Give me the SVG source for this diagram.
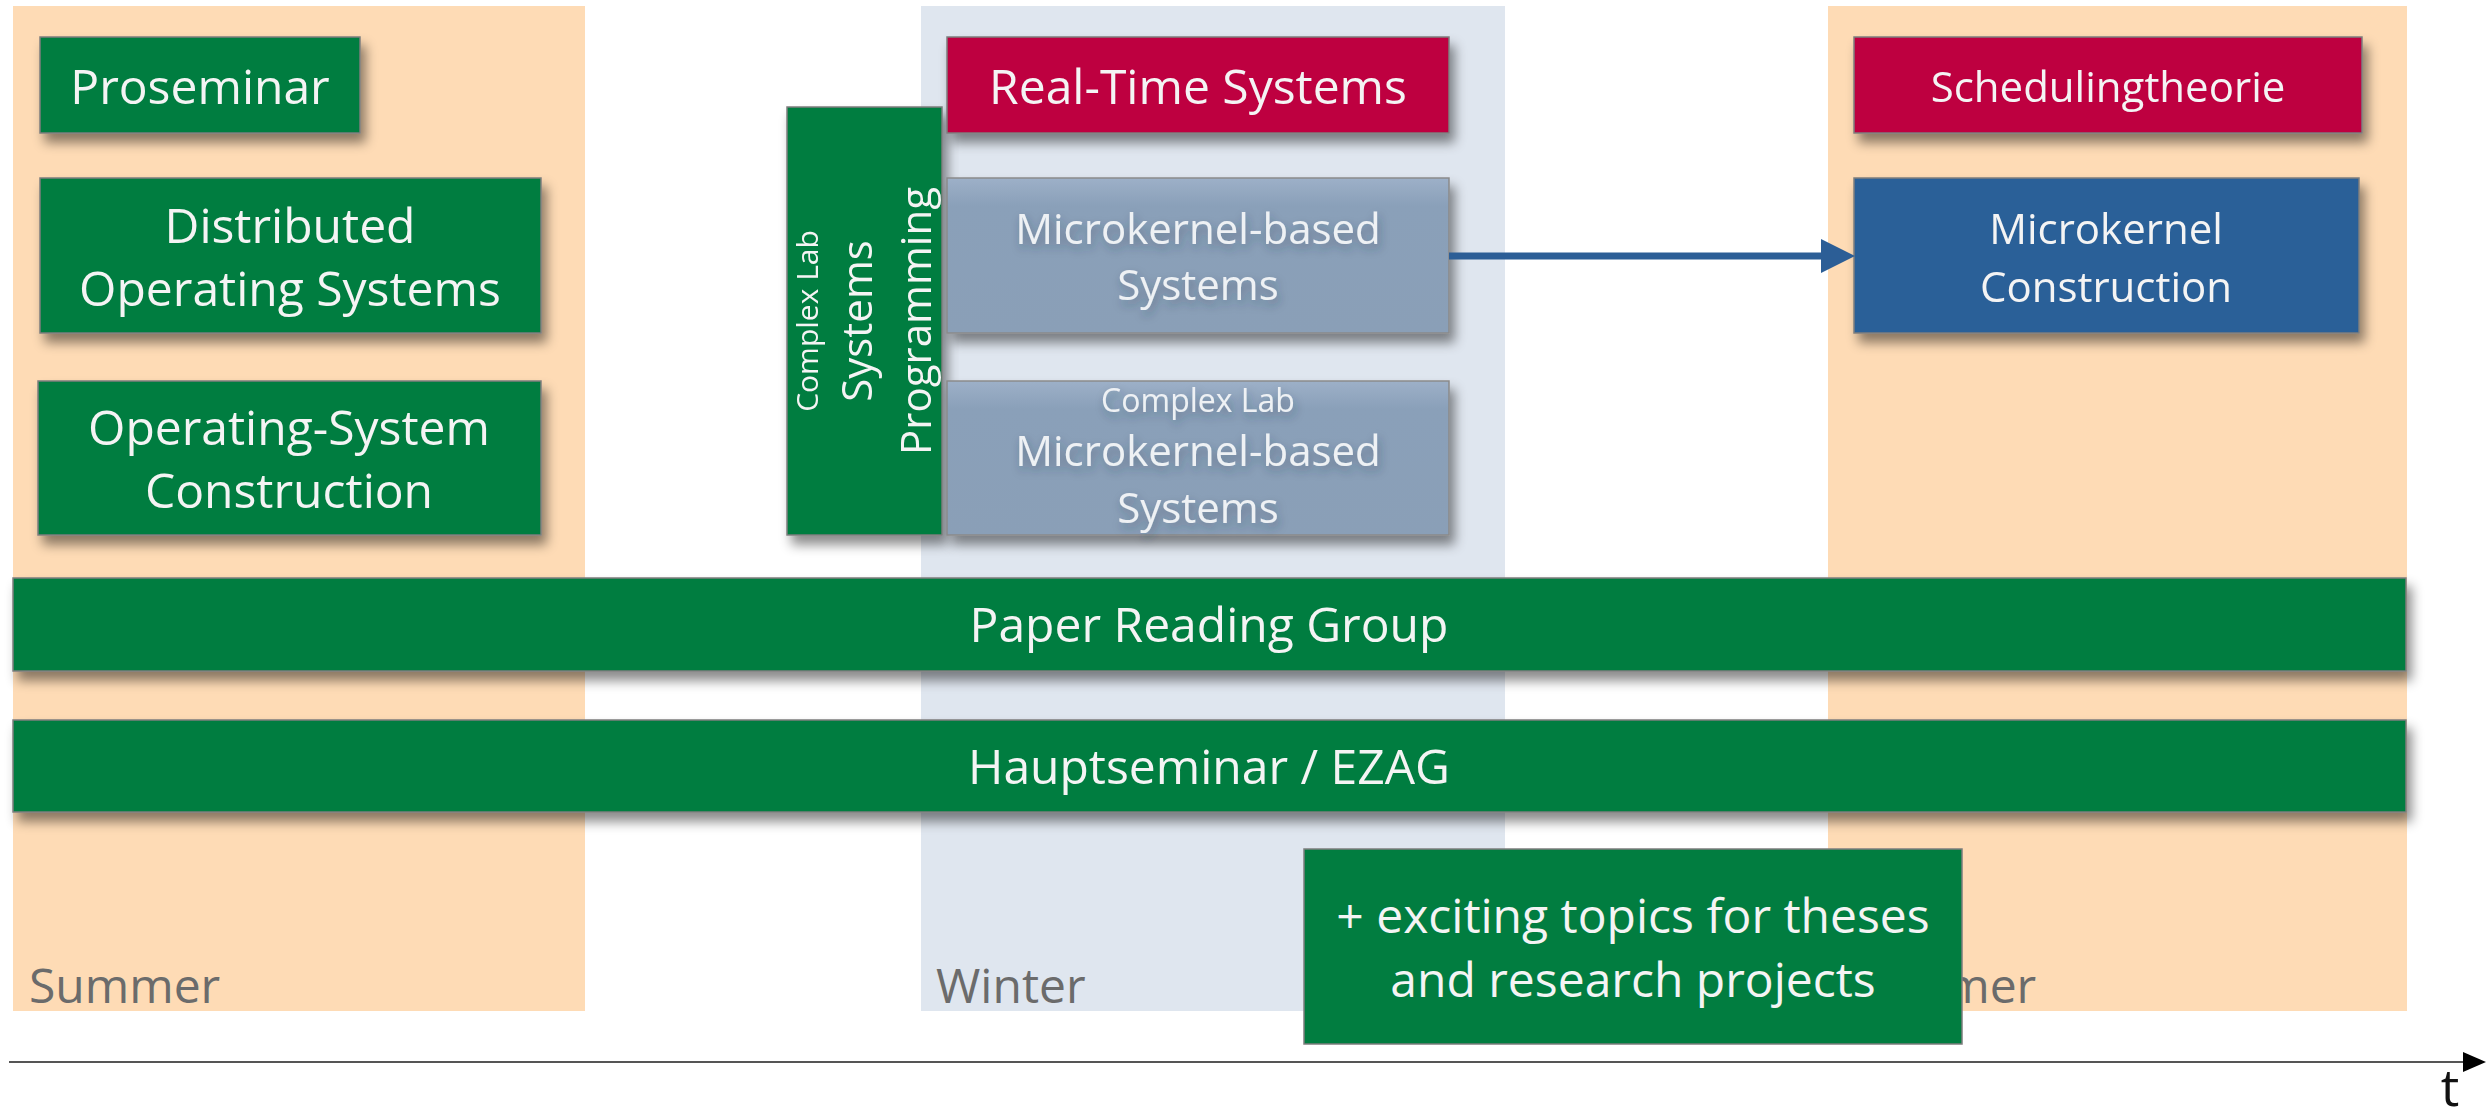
<svg xmlns="http://www.w3.org/2000/svg" width="2487" height="1107" viewBox="0 0 2487 1107">
<defs>
<style>
text{font-family:"Open Sans","Noto Sans","DejaVu Sans",sans-serif;}
.lbl{fill:#f4f4f4;text-anchor:middle;font-size:48px}
.sm{font-size:42px}
.glbl{fill:#eef1f4;text-anchor:middle;font-size:42px}
.green{fill:#017d40;stroke:#7d7d7d;stroke-width:1.5}
.red{fill:#be0040;stroke:#7d7d7d;stroke-width:1.5}
.blue{fill:#2c6098;stroke:#7d7d7d;stroke-width:1.5}
.grey{fill:url(#gg);stroke:#8a8a8a;stroke-width:1.5}
.season{fill:#6b6b6b;font-size:48px}
.summer{fill:#fedbb5}
.winter{fill:#dfe6ef}
</style>
<filter id="sh" x="-5%" y="-20%" width="115%" height="170%">
<feDropShadow dx="5" dy="9" stdDeviation="6" flood-color="#000" flood-opacity="0.45"/>
</filter>
<filter id="tsh" x="-10%" y="-30%" width="120%" height="180%">
<feDropShadow dx="2" dy="5" stdDeviation="5" flood-color="#2a3a4a" flood-opacity="0.4"/>
</filter>
<linearGradient id="gg" x1="0" y1="0" x2="0" y2="1">
<stop offset="0" stop-color="#9db0c8"/>
<stop offset="0.18" stop-color="#8aa0b9"/>
<stop offset="1" stop-color="#8a9fb7"/>
</linearGradient>
<marker id="ah" markerUnits="userSpaceOnUse" markerWidth="34" markerHeight="34" refX="0" refY="17" orient="auto">
<path d="M0,0 L34,17 L0,34 z" fill="#2c5e96"/>
</marker>
<marker id="axh" markerUnits="userSpaceOnUse" markerWidth="24" markerHeight="20" refX="0" refY="10" orient="auto">
<path d="M0,0 L23,10 L0,20 z" fill="#000"/>
</marker>
</defs>

<rect width="2487" height="1107" fill="#fff"/>

<g id="seasons">
<rect class="summer" x="13" y="6" width="572" height="1005"/>
<rect class="winter" x="921" y="6" width="584" height="1005"/>
<rect class="summer" x="1828" y="6" width="579" height="1005"/>
<text class="season" x="29" y="1003">Summer</text>
<text class="season" x="936" y="1003">Winter</text>
<text class="season" x="1845" y="1003">Summer</text>
</g>

<g id="proseminar" filter="url(#sh)">
<rect class="green" x="40" y="37" width="320" height="96"/>
<text class="lbl" x="200" y="104">Proseminar</text>
</g>

<g id="distributed-os" filter="url(#sh)">
<rect class="green" x="40" y="178" width="501" height="155"/>
<text class="lbl" x="290" y="243">Distributed</text>
<text class="lbl" x="290" y="306">Operating Systems</text>
</g>

<g id="os-construction" filter="url(#sh)">
<rect class="green" x="38" y="381" width="503" height="154"/>
<text class="lbl" x="289" y="445">Operating-System</text>
<text class="lbl" x="289" y="508">Construction</text>
</g>

<g id="complex-lab-sysprog" filter="url(#sh)">
<rect class="green" x="787" y="107" width="155" height="428"/>
<text class="lbl" style="font-size:30px" transform="translate(818,321) rotate(-90)">Complex Lab</text>
<text class="lbl sm" transform="translate(872,321) rotate(-90)">Systems</text>
<text class="lbl sm" transform="translate(931,321) rotate(-90)">Programming</text>
</g>

<g id="real-time-systems" filter="url(#sh)">
<rect class="red" x="947" y="37" width="502" height="96"/>
<text class="lbl" x="1198" y="104">Real-Time Systems</text>
</g>

<g id="microkernel-based-systems">
<rect class="grey" x="947" y="178" width="502" height="155" filter="url(#sh)"/>
<g filter="url(#tsh)">
<text class="glbl" x="1198" y="244">Microkernel-based</text>
<text class="glbl" x="1198" y="300">Systems</text>
</g>
</g>

<g id="complex-lab-microkernel">
<rect class="grey" x="947" y="381" width="502" height="154" filter="url(#sh)"/>
<g filter="url(#tsh)">
<text class="glbl" style="font-size:32px" x="1198" y="412">Complex Lab</text>
<text class="glbl" x="1198" y="466">Microkernel-based</text>
<text class="glbl" x="1198" y="523">Systems</text>
</g>
</g>

<g id="schedulingtheorie" filter="url(#sh)">
<rect class="red" x="1854" y="37" width="508" height="96"/>
<text class="lbl sm" x="2108" y="102">Schedulingtheorie</text>
</g>

<g id="microkernel-construction" filter="url(#sh)">
<rect class="blue" x="1854" y="178" width="505" height="155"/>
<text class="lbl sm" x="2106" y="244">Microkernel</text>
<text class="lbl sm" x="2106" y="302">Construction</text>
</g>

<g id="paper-reading-group" filter="url(#sh)">
<rect class="green" x="13" y="578" width="2393" height="93"/>
<text class="lbl" x="1209" y="642">Paper Reading Group</text>
</g>

<g id="hauptseminar" filter="url(#sh)">
<rect class="green" x="13" y="720" width="2393" height="92"/>
<text class="lbl" x="1209" y="784">Hauptseminar / EZAG</text>
</g>

<g id="theses">
<rect class="green" x="1304" y="849" width="658" height="195"/>
<text class="lbl" x="1633" y="933">+ exciting topics for theses</text>
<text class="lbl" x="1633" y="997">and research projects</text>
</g>

<g id="connectors">
<line x1="1449" y1="256" x2="1821" y2="256" stroke="#2c5e96" stroke-width="7" marker-end="url(#ah)"/>
<line x1="9" y1="1062" x2="2463" y2="1062" stroke="#555" stroke-width="2" marker-end="url(#axh)"/>
</g>

<g id="axis-label">
<text x="2450" y="1106" style="font-size:52px;fill:#111;text-anchor:middle">t</text>
</g>
</svg>
